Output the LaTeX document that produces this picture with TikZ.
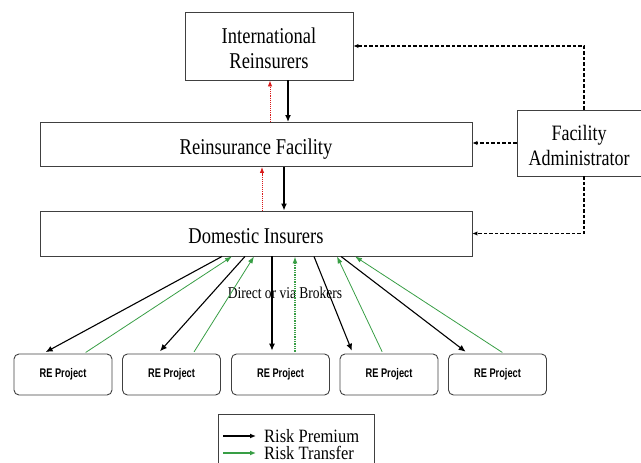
\documentclass[tikz,border=0pt]{standalone}
\usepackage{fontspec}
\setmainfont{Liberation Serif}
\newfontfamily\projfont{Liberation Sans}
\usetikzlibrary{arrows.meta}
\definecolor{rgreen}{rgb}{0.22,0.62,0.27}
\definecolor{rred}{rgb}{0.85,0.1,0.1}
% text lowered to a given baseline offset, stretched vertically
\newcommand\vstretch[1]{\scalebox{1}[1.22]{#1}}
\newcommand\oneline[2]{\raisebox{#1}[0pt][0pt]{\vstretch{#2}}}
\newcommand\twolines[3]{\raisebox{#1}[0pt][0pt]{\vstretch{\begin{tabular}[t]{@{}c@{}}#2\\#3\end{tabular}}}}
\tikzset{
  box/.style={draw=black!75, line width=0.9pt, align=center, inner sep=0pt},
  projbox/.style={box, rounded corners=5pt, minimum width=98, minimum height=41,
    font=\projfont\bfseries\fontsize{12.5}{14}\selectfont},
  admline/.style={line width=1.3pt, dash pattern=on 3.5pt off 2pt, -{Latex[length=5pt,width=4.5pt]}},
  blk/.style={black, line width=1.6pt, -{Latex[length=7pt,width=6pt]}},
  blkthin/.style={black, line width=1.1pt, -{Latex[length=7pt,width=6pt]}},
  grn/.style={rgreen, line width=0.8pt, -{Latex[length=7pt,width=5pt]}},
  reddot/.style={rred, line width=0.9pt, densely dotted, -{Latex[length=6pt,width=4.5pt]}},
}
\begin{document}
\begin{tikzpicture}[x=1pt,y=-1pt]
\useasboundingbox (0,0) rectangle (641,463);
% main boxes
\node[box, minimum width=168, minimum height=68, font=\fontsize{18.5}{20.5}\selectfont] (IR) at (269,46) {\twolines{3pt}{International}{Reinsurers}};
\node[box, minimum width=432, minimum height=44, font=\fontsize{18.5}{22}\selectfont] (RF) at (256,144.5) {\oneline{-10pt}{Reinsurance Facility}};
\node[box, minimum width=432, minimum height=45, font=\fontsize{18.5}{22}\selectfont] (DI) at (256,233.5) {\oneline{-10pt}{Domestic Insurers}};
\node[box, minimum width=124, minimum height=66, font=\fontsize{18}{20.5}\selectfont] (FA) at (579,143) {\twolines{3pt}{Facility}{Administrator}};
% projects
\node[projbox] (p1) at (63,374.5) {\scalebox{0.74}[1]{RE Project}};
\node[projbox] (p2) at (171.5,374.5) {\scalebox{0.74}[1]{RE Project}};
\node[projbox] (p3) at (280.5,374.5) {\scalebox{0.74}[1]{RE Project}};
\node[projbox] (p4) at (389,374.5) {\scalebox{0.74}[1]{RE Project}};
\node[projbox] (p5) at (497.5,374.5) {\scalebox{0.74}[1]{RE Project}};
\node[font=\fontsize{13.5}{16}\selectfont] (lbl) at (285,293) {\vstretch{Direct or via Brokers}};
% administrator dashed links
\draw[admline] ([xshift=5]FA.north) |- (IR.east);
\draw[admline] (FA.west) -- (FA.west -| RF.east);
\draw[admline] ([xshift=5]FA.south) |- (DI.east);
% vertical links
\draw[reddot] ([xshift=1]IR.south |- RF.north) -- ([xshift=1]IR.south);
\draw[blk] ([xshift=19]IR.south) -- ([xshift=19]IR.south |- RF.north);
\draw[reddot] ([xshift=6]RF.south |- DI.north) -- ([xshift=6]RF.south);
\draw[blk] ([xshift=28]RF.south) -- ([xshift=28]RF.south |- DI.north);
% premium arrows
\draw[blkthin, shorten >=3pt] ([xshift=-34]DI.south) -- ([xshift=-20]p1.north);
\draw[blkthin, shorten >=3pt] ([xshift=-11]DI.south) -- ([xshift=-13.5]p2.north);
\draw[blkthin, shorten >=3pt] ([xshift=16]DI.south) -- ([xshift=-8.5]p3.north);
\draw[blkthin, shorten >=3pt] ([xshift=58]DI.south) -- ([xshift=-36]p4.north);
\draw[blkthin, shorten >=3pt] ([xshift=85]DI.south) -- ([xshift=-29.5]p5.north);
% transfer arrows
\draw[grn, shorten <=2pt] ([xshift=21]p1.north) -- ([xshift=-24]DI.south);
\draw[grn, shorten <=2pt] ([xshift=21.5]p2.north) -- ([xshift=-2]DI.south);
\draw[grn, line width=1.3pt, densely dotted, shorten <=2pt] ([xshift=14.5]p3.north) -- ([xshift=39]DI.south);
\draw[grn, shorten <=2pt] ([xshift=-6]p4.north) -- ([xshift=81]DI.south);
\draw[grn, shorten <=2pt] ([xshift=6.5]p5.north) -- ([xshift=99]DI.south);
% legend
\node[draw=black!75, line width=0.9pt, minimum width=156, minimum height=60, inner sep=0pt] (leg) at (296,444) {};
\node[anchor=west, inner sep=0pt, font=\fontsize{16.5}{18}\selectfont] (lp) at (264,436) {\scalebox{1}[1.14]{Risk Premium}};
\node[anchor=west, inner sep=0pt, font=\fontsize{16.5}{18}\selectfont] (lt) at (264,453) {\scalebox{1}[1.14]{Risk Transfer}};
\draw[black, line width=1.4pt, -{Latex[length=6pt,width=5pt]}] ([xshift=-41]lp.west) -- ([xshift=-8]lp.west);
\draw[rgreen, line width=1.4pt, -{Latex[length=6pt,width=5pt]}] ([xshift=-41]lt.west) -- ([xshift=-8]lt.west);
\end{tikzpicture}
\end{document}
